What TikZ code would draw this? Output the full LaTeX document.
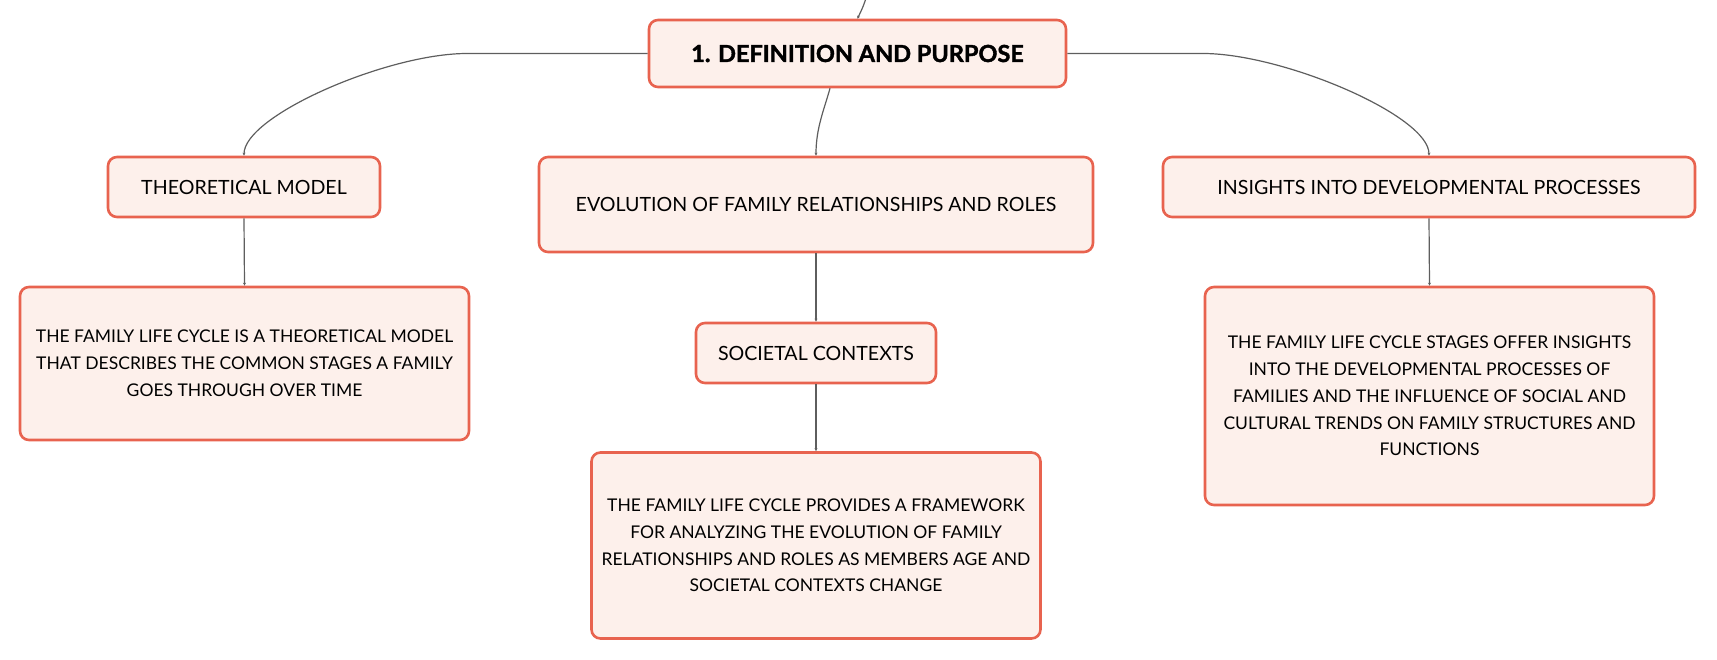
\documentclass[tikz,border=0pt]{standalone}
\usepackage{fontspec}
\setmainfont{Lato}[BoldFeatures={FakeBold=1.6}]
\usetikzlibrary{arrows.meta,calc}
\definecolor{boxborder}{HTML}{E8634F}
\definecolor{boxfill}{HTML}{FDF0EB}
\definecolor{linkgray}{HTML}{5E5E5E}
\tikzset{
  box/.style={draw=boxborder, fill=boxfill, line width=2.6pt, rounded corners=9pt,
    align=center, inner sep=0pt, text=black},
  topic/.style={box, font=\fontsize{19.6}{26}\selectfont},
  desc/.style={box, font=\fontsize{17.5}{26.8}\selectfont},
  rootbox/.style={box, font=\fontsize{23.5}{28}\selectfont\bfseries},
  link/.style={draw=linkgray, line width=1.2pt, -{Stealth[length=3pt,width=3pt]}},
}
\begin{document}
\begin{tikzpicture}[x=1pt,y=-1pt]
\useasboundingbox (0,0) rectangle (1717,660);
\node[rootbox, minimum width=417pt, minimum height=67pt] (root) at (857.5,53.5) {1. DEFINITION AND PURPOSE};
\node[topic, minimum width=272pt, minimum height=60pt] (theo) at (244,187) {THEORETICAL MODEL};
\node[topic, minimum width=554pt, minimum height=95pt] (evo) at (816,204.5) {EVOLUTION OF FAMILY RELATIONSHIPS AND ROLES};
\node[topic, minimum width=532pt, minimum height=60pt] (ins) at (1429,187) {INSIGHTS INTO DEVELOPMENTAL PROCESSES};
\node[topic, minimum width=240pt, minimum height=60pt] (soc) at (816,353) {SOCIETAL CONTEXTS};
\node[desc, minimum width=449pt, minimum height=153pt] (ldesc) at (244.5,363.5)
  {THE FAMILY LIFE CYCLE IS A THEORETICAL MODEL\\THAT DESCRIBES THE COMMON STAGES A FAMILY\\GOES THROUGH OVER TIME};
\node[desc, minimum width=449pt, minimum height=186pt] (bdesc) at (816,545.5)
  {THE FAMILY LIFE CYCLE PROVIDES A FRAMEWORK\\FOR ANALYZING THE EVOLUTION OF FAMILY\\RELATIONSHIPS AND ROLES AS MEMBERS AGE AND\\SOCIETAL CONTEXTS CHANGE};
\node[desc, minimum width=449pt, minimum height=218pt] (rdesc) at (1429.5,396)
  {THE FAMILY LIFE CYCLE STAGES OFFER INSIGHTS\\INTO THE DEVELOPMENTAL PROCESSES OF\\FAMILIES AND THE INFLUENCE OF SOCIAL AND\\CULTURAL TRENDS ON FAMILY STRUCTURES AND\\FUNCTIONS};
\coordinate (up) at (866,-2);
\coordinate (lbend) at (467,53.5);
\coordinate (rbend) at (1203,53.5);
\draw[link] (up) .. controls (863,8) and (860,13) .. (root.north);
\draw[link] (root.west) -- (lbend) .. controls ($(lbend)+(-80,0)$) and ($(theo.north)+(0,-40)$) .. (theo.north);
\draw[link] (root.east) -- (rbend) .. controls ($(rbend)+(80,0)$) and ($(ins.north)+(0,-40)$) .. (ins.north);
\draw[link] ([xshift=-27.5pt]root.south) .. controls (824,110) and (816,128) .. (evo.north);
\draw[link] (evo.south) -- (soc.north);
\draw[link] (soc.south) -- (bdesc.north);
\draw[link] (theo.south) -- (ldesc.north);
\draw[link] (ins.south) -- (rdesc.north);
\end{tikzpicture}
\end{document}
